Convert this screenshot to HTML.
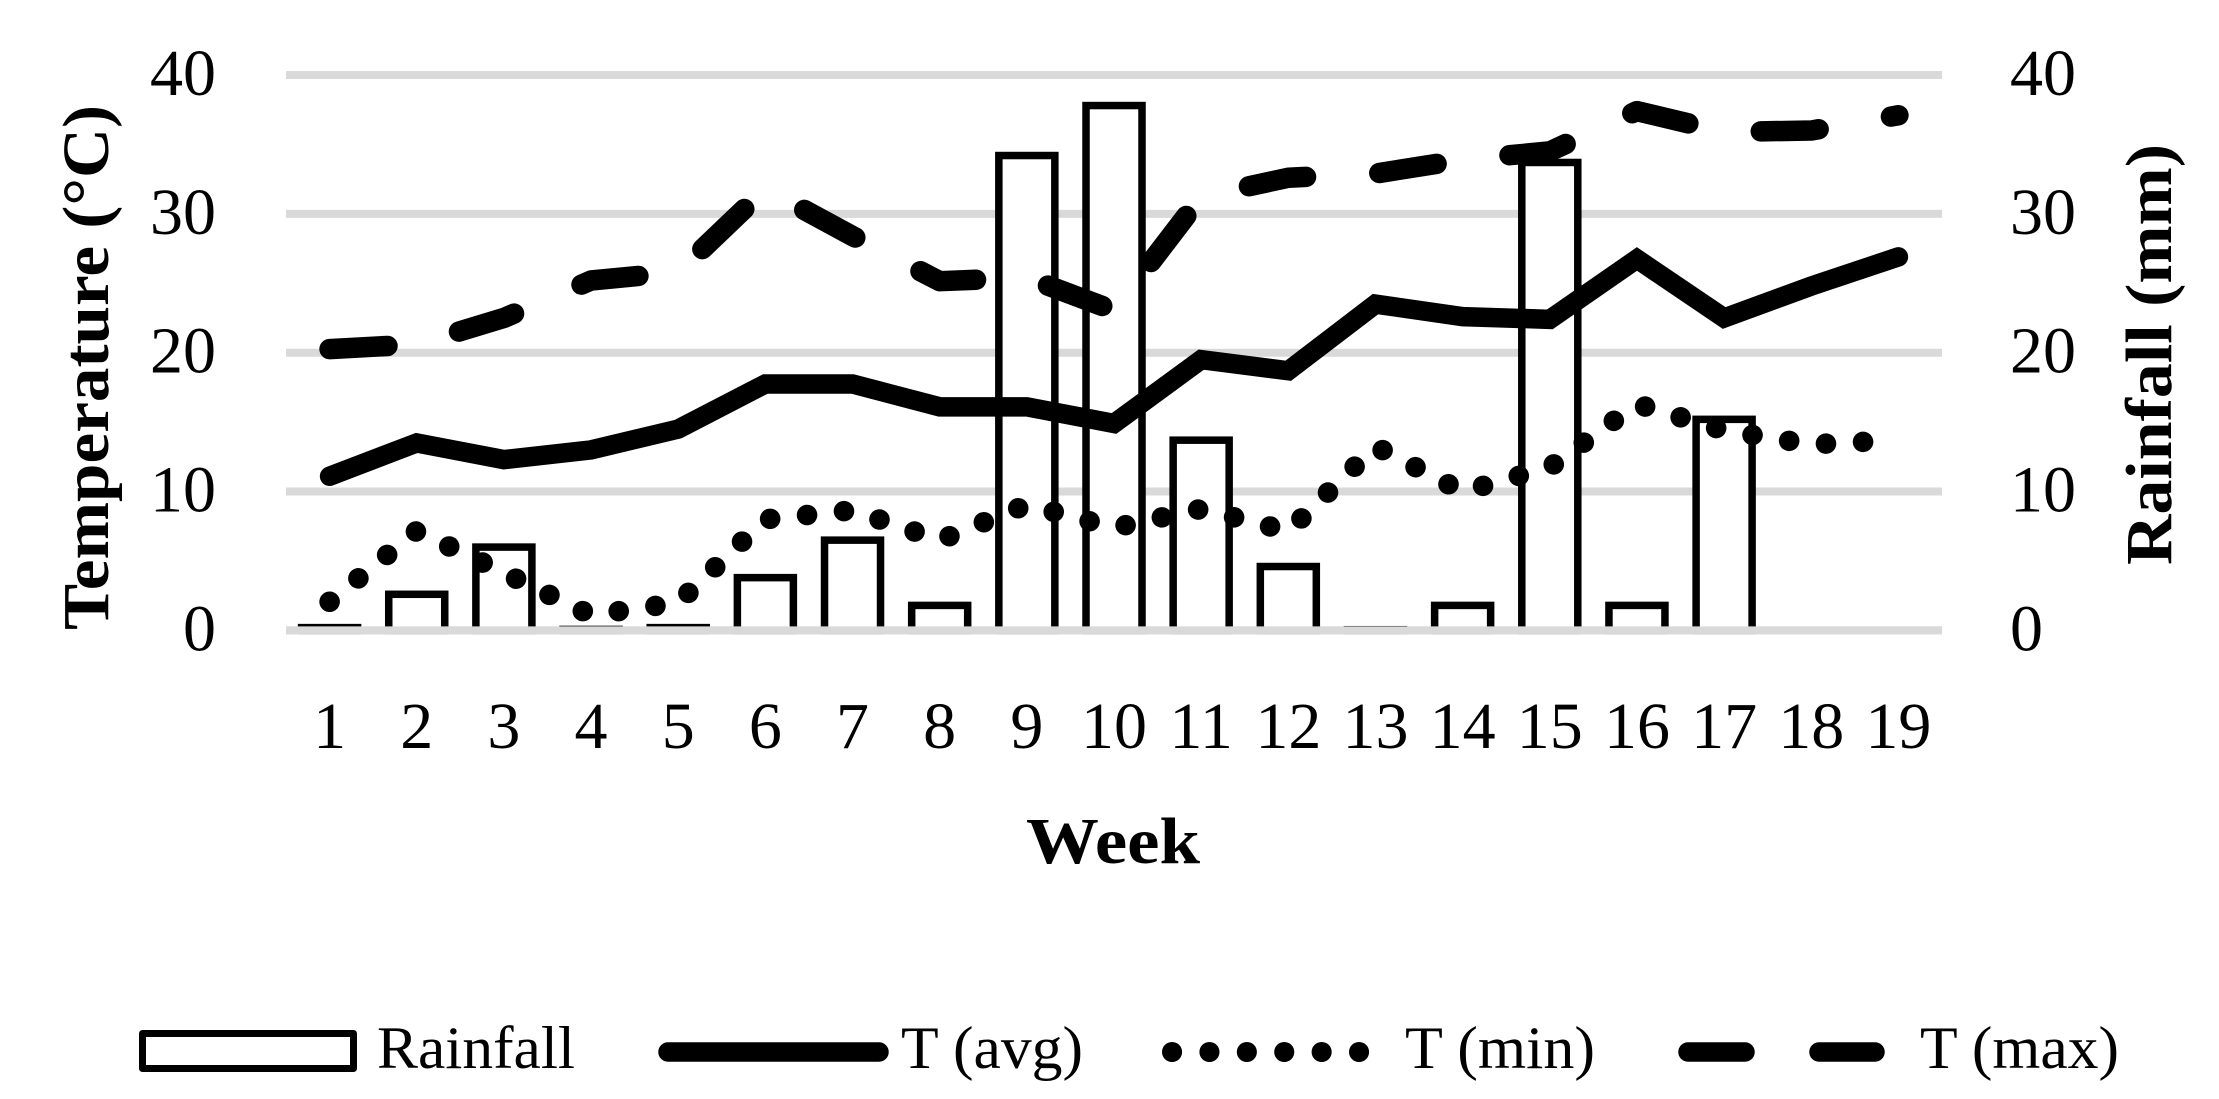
<!DOCTYPE html>
<html lang="en">
<head>
<meta charset="utf-8">
<title>Weekly temperature and rainfall</title>
<style>
html,body{margin:0;padding:0;background:#fff;}
svg{display:block;}
text{font-family:"Liberation Serif",serif;fill:#000;}
.tick{font-size:66px;}
.title{font-size:66px;font-weight:bold;}
.leg{font-size:60px;}
</style>
</head>
<body>
<svg id="chart" xmlns="http://www.w3.org/2000/svg" width="2219" height="1099" viewBox="0 0 2219 1099">
  <rect x="0" y="0" width="2219" height="1099" fill="#ffffff"/>
  <g id="grid"></g>
  <g id="bars"></g>
  <g id="baseline"></g>
  <g id="lines"></g>
  <g id="leftTicks"></g>
  <g id="rightTicks"></g>
  <g id="xTicks"></g>

  <text class="title" transform="translate(108,630) rotate(-90)" textLength="525" lengthAdjust="spacingAndGlyphs">Temperature (°C)</text>
  <text class="title" transform="translate(2171,565) rotate(-90)" textLength="421" lengthAdjust="spacingAndGlyphs">Rainfall (mm)</text>
  <text class="title" x="1026" y="863" textLength="174" lengthAdjust="spacingAndGlyphs">Week</text>

  <g>
    <g>
      <rect x="142.5" y="1033.5" width="211" height="35" fill="#fff" stroke="#000" stroke-width="7" stroke-linejoin="round"/>
      <text class="leg" x="377" y="1068" textLength="198" lengthAdjust="spacingAndGlyphs">Rainfall</text>
    </g>
    <g>
      <line x1="668" y1="1052" x2="879" y2="1052" stroke="#000" stroke-width="19.5" stroke-linecap="round"/>
      <text class="leg" x="901" y="1068" textLength="182" lengthAdjust="spacingAndGlyphs">T (avg)</text>
    </g>
    <g>
      <line x1="1172" y1="1052" x2="1360" y2="1052" stroke="#000" stroke-width="20" stroke-linecap="round" stroke-dasharray="0.1 37.3"/>
      <text class="leg" x="1405" y="1068" textLength="190" lengthAdjust="spacingAndGlyphs">T (min)</text>
    </g>
    <g>
      <line x1="1688" y1="1052" x2="1745" y2="1052" stroke="#000" stroke-width="19.5" stroke-linecap="round"/>
      <line x1="1819" y1="1052" x2="1875" y2="1052" stroke="#000" stroke-width="19.5" stroke-linecap="round"/>
      <text class="leg" x="1920" y="1068" textLength="199" lengthAdjust="spacingAndGlyphs">T (max)</text>
    </g>
  </g>
</svg>
<script>
const weeks = [1,2,3,4,5,6,7,8,9,10,11,12,13,14,15,16,17,18,19];
const yTicks = [0,10,20,30,40];
const rainfall = [0.2,2.6,6.0,0.07,0.2,3.8,6.5,1.8,34.2,37.8,13.7,4.6,0.05,1.8,33.7,1.8,15.2,null,null];
const tAvg = [11.1,13.5,12.3,13.0,14.5,17.75,17.75,16.1,16.1,14.9,19.5,18.7,23.5,22.6,22.4,26.75,22.5,24.8,26.9];
const tMin = [2.06,7.17,4.15,1.1,2.0,8.0,8.65,6.5,9.05,7.4,8.75,7.15,13.25,10.0,11.75,16.3,14.4,13.4,13.7];
const tMax = [20.26,20.6,22.5,25.2,25.8,31.8,28.4,25.15,25.4,23.05,31.25,32.6,32.9,33.9,34.5,37.4,35.9,36.0,37.1];

const NS = 'http://www.w3.org/2000/svg';
const plotLeft = 286, plotRight = 1942, plotZero = 630.4, plotTop = 75;
const axisMax = 40;
function xScale(i){ return plotLeft + (i + 0.5) * (plotRight - plotLeft) / weeks.length; }
function yScale(v){ return plotZero - v * (plotZero - plotTop) / axisMax; }
function make(tag, attrs, parent){
  const el = document.createElementNS(NS, tag);
  for (const k in attrs) el.setAttribute(k, attrs[k]);
  parent.appendChild(el);
  return el;
}
const gridG = document.getElementById('grid');
yTicks.forEach(function(t){
  const el = make('line', {x1:plotLeft, x2:plotRight, y1:yScale(t), y2:yScale(t), stroke:'#d9d9d9', 'stroke-width':8}, gridG);
  
  
});
const barsG = document.getElementById('bars');
const barWidth = 56;
rainfall.forEach(function(v, i){
  if (v === null) return;
  const el = make('rect', {x:xScale(i) - barWidth/2, y:yScale(v), width:barWidth, height:Math.max(0, plotZero - yScale(v)), fill:'#fff', stroke:'#000', 'stroke-width':7.5}, barsG);
  
  
});
const baseEl = make('line', {x1:plotLeft, x2:plotRight, y1:yScale(0), y2:yScale(0), stroke:'#d9d9d9', 'stroke-width':8}, document.getElementById('baseline'));


function pathFor(values){
  return values.map(function(v, i){ return (i ? 'L' : 'M') + xScale(i).toFixed(2) + ' ' + yScale(v).toFixed(2); }).join(' ');
}
const linesG = document.getElementById('lines');
const avgLine = make('path', {d:pathFor(tAvg), fill:'none', stroke:'#000', 'stroke-width':19.5, 'stroke-linecap':'round', 'stroke-linejoin':'miter'}, linesG);


const minLine = make('path', {d:pathFor(tMin), fill:'none', stroke:'#000', 'stroke-width':20.5, 'stroke-linecap':'round', 'stroke-linejoin':'round', 'stroke-dasharray':'0.1 37'}, linesG);


const maxLine = make('path', {d:pathFor(tMax), fill:'none', stroke:'#000', 'stroke-width':20.5, 'stroke-linecap':'round', 'stroke-linejoin':'round', 'stroke-dasharray':'58 73.4'}, linesG);



const leftG = document.getElementById('leftTicks');
const rightG = document.getElementById('rightTicks');
yTicks.forEach(function(t){
  const l = make('text', {class:'tick', x:216, y:yScale(t) + 20, 'text-anchor':'end'}, leftG);
  l.textContent = t;
  
  
  const r = make('text', {class:'tick', x:2010, y:yScale(t) + 20}, rightG);
  r.textContent = t;
  
  
});
const xG = document.getElementById('xTicks');
weeks.forEach(function(w, i){
  const el = make('text', {class:'tick', x:xScale(i), y:748, 'text-anchor':'middle'}, xG);
  el.textContent = w;
  
  
});
</script>
</body>
</html>
